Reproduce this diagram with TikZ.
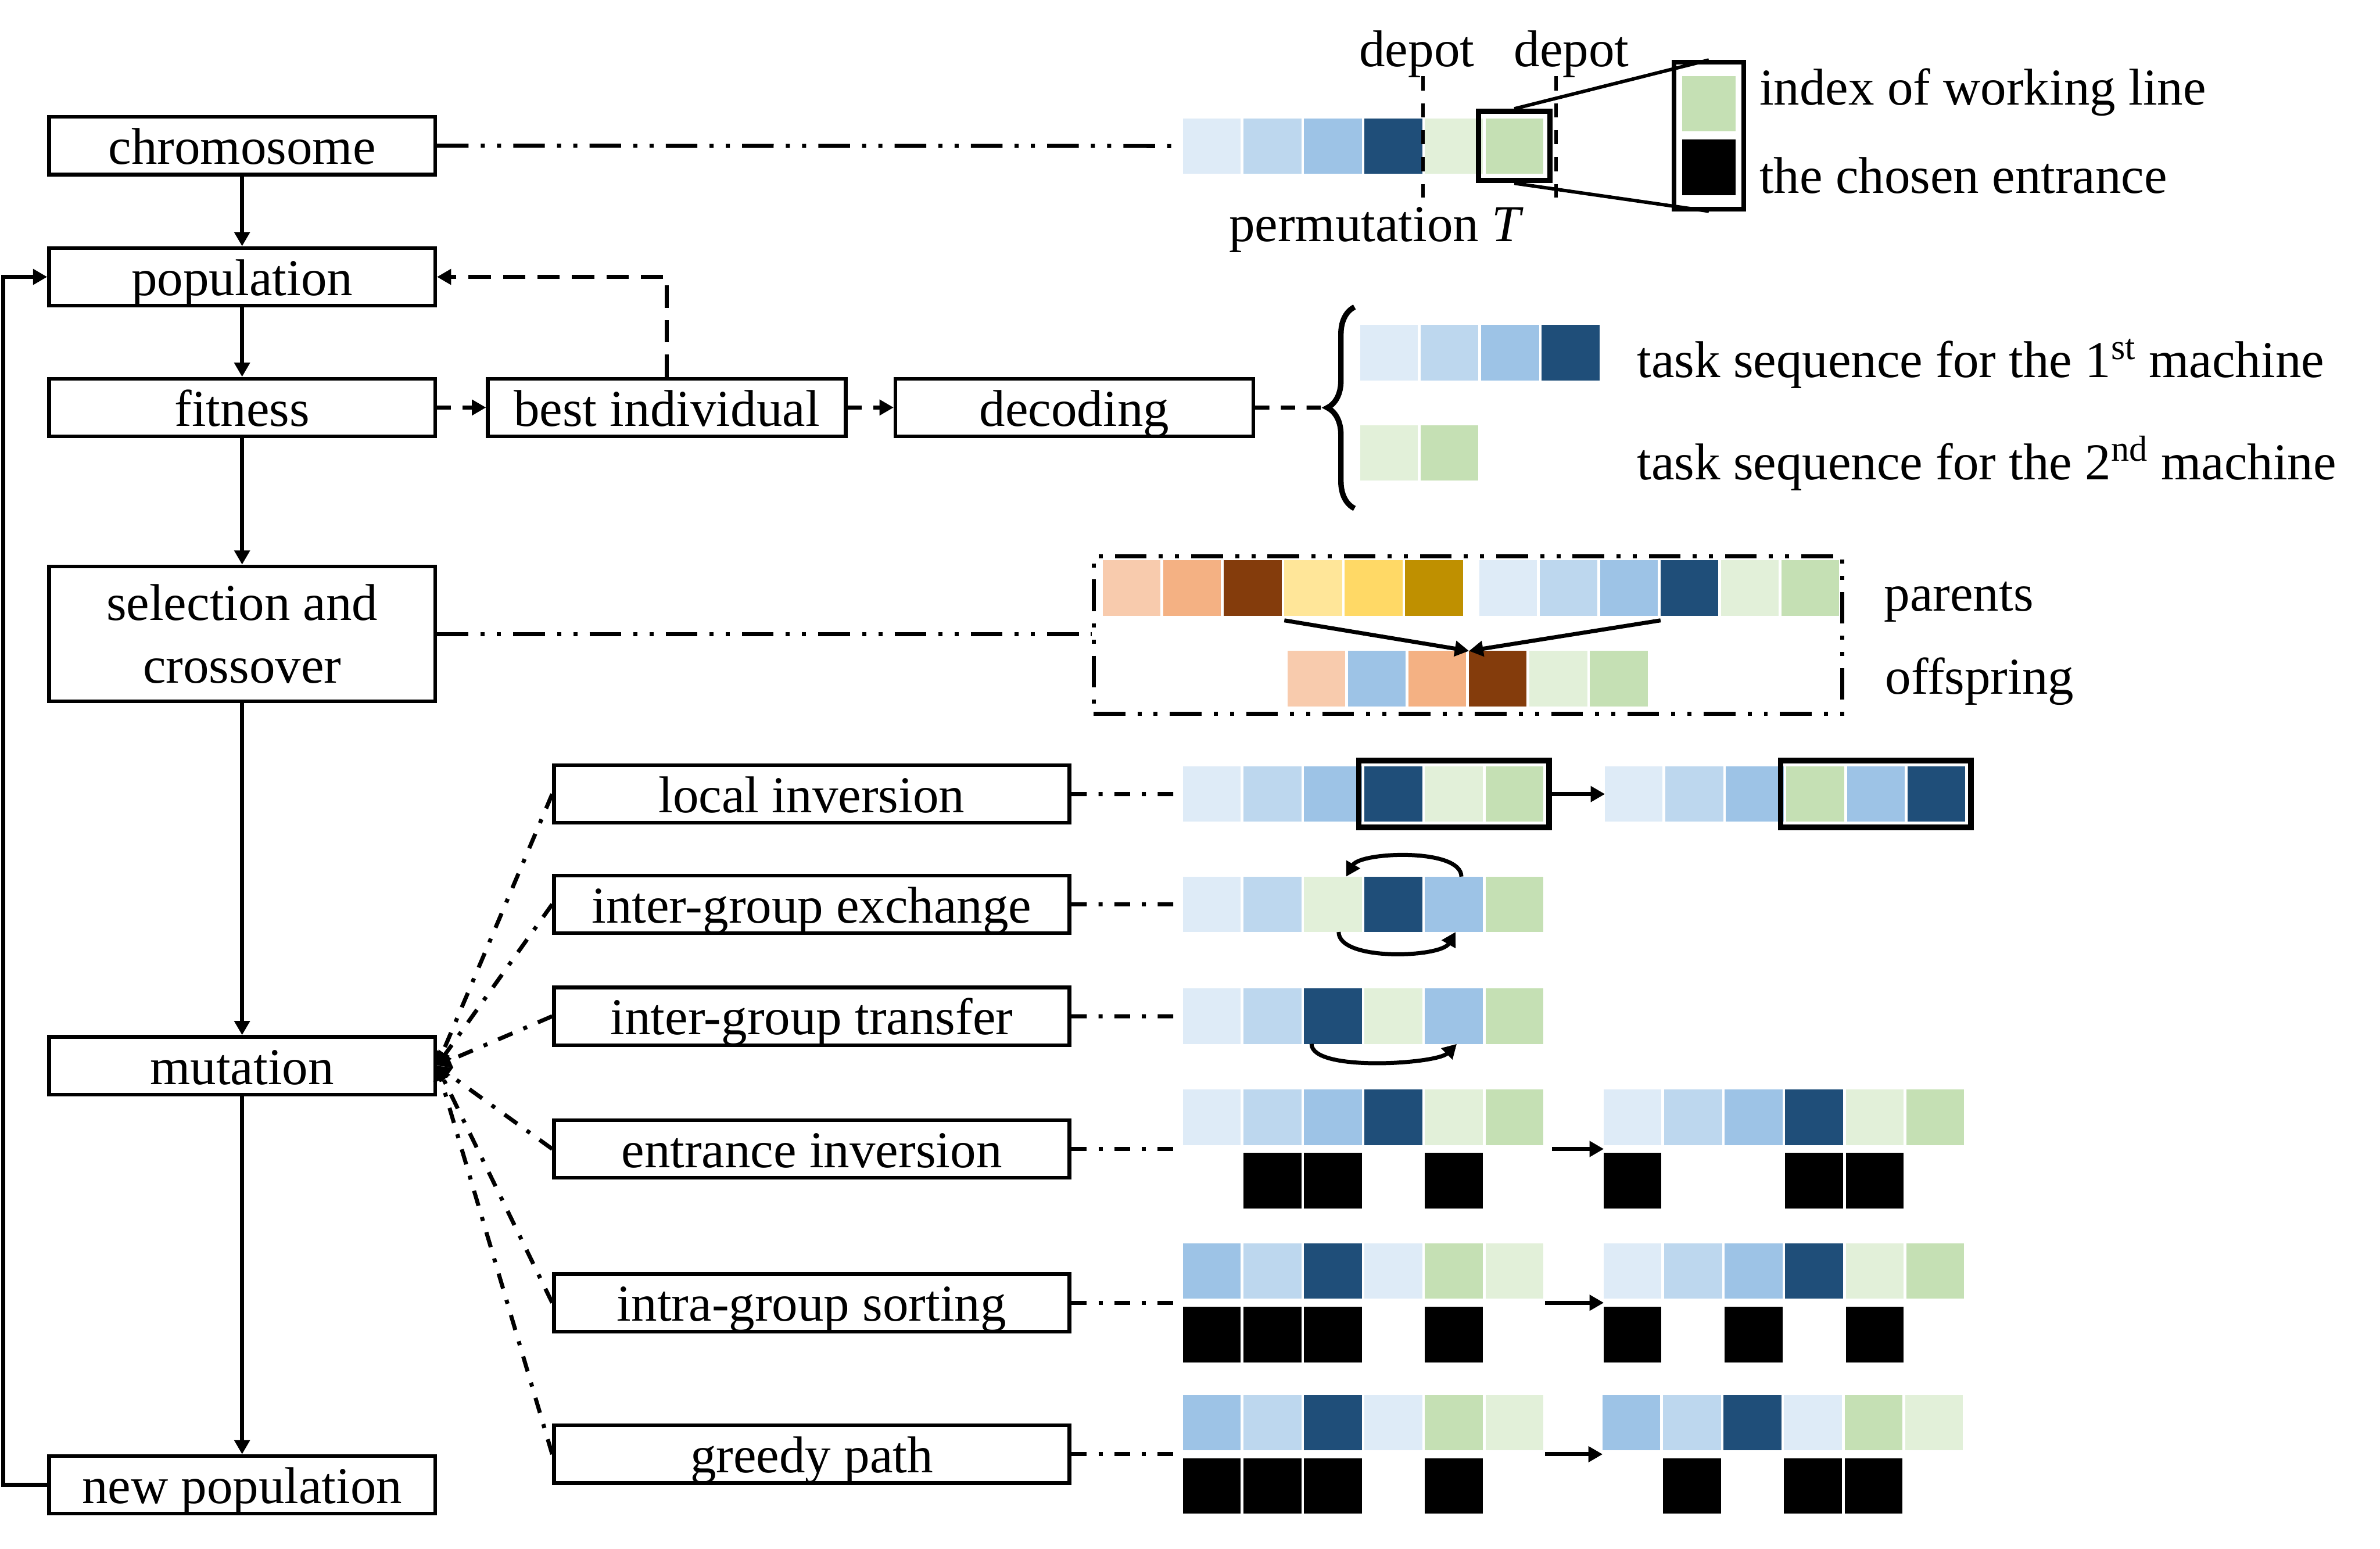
\documentclass[tikz,border=0pt]{standalone}
\usepackage{fontspec}
\setmainfont{Liberation Serif}
\usetikzlibrary{arrows.meta, positioning, fit, decorations.pathreplacing}

\definecolor{blueA}{HTML}{DEEBF7}
\definecolor{blueB}{HTML}{BDD7EE}
\definecolor{blueC}{HTML}{9DC3E6}
\definecolor{blueD}{HTML}{1F4E79}
\definecolor{greenA}{HTML}{E2F0D9}
\definecolor{greenB}{HTML}{C5E0B4}
\definecolor{orangeA}{HTML}{F8CBAD}
\definecolor{orangeB}{HTML}{F4B183}
\definecolor{brownA}{HTML}{843C0C}
\definecolor{yellowA}{HTML}{FFE699}
\definecolor{yellowB}{HTML}{FFD966}
\definecolor{goldA}{HTML}{BF9000}

\tikzset{
  boxbase/.style={rectangle, draw, line width=1.8pt, minimum width=6.69cm,
    minimum height=1cm, inner sep=0pt, align=center},
  block/.style={boxbase, text height=0.69cm, text depth=0.05cm},
  opblock/.style={block, minimum width=8.93cm},
  cell/.style={rectangle, anchor=north west, minimum width=1cm,
    minimum height=0.96cm, inner sep=0pt, outer sep=0pt},
  txt/.style={inner sep=0pt},
  arrow/.style={line width=2pt, -{Triangle[length=7pt,width=7.5pt]}},
  dashline/.style={line width=2pt, dash pattern=on 7pt off 5.7pt},
  dashdotline/.style={line width=2pt, dash pattern=on 7.7pt off 5.8pt on 2pt off 5.8pt},
  dashdotdotline/.style={line width=2pt,
    dash pattern=on 15.6pt off 6pt on 2pt off 6pt on 2pt off 6pt}
}

% one row of task cells: name, left x, top y, colours
\newcommand{\taskrow}[4]{%
  \foreach \cellcol [count=\idx] in {#4}
    \node[cell, fill=\cellcol] (#1-\idx) at ({#2+(\idx-1)*1.048},#3) {};}

\begin{document}
\begin{tikzpicture}[font=\fontsize{25.5}{31}\selectfont]
    \useasboundingbox (0,0) rectangle (41.24,-26.84);

    % main loop
    \node[block] (chromosome) at (4.195,-2.525) {chromosome};
    \node[block, below=1.21cm of chromosome] (population) {population};
    \node[block, below=1.2cm of population] (fitness) {fitness};
    \node[boxbase, minimum height=2.34cm, below=2.19cm of fitness] (selection) {selection and\\crossover};
    \node[block, below=5.75cm of selection] (mutation) {mutation};
    \node[block, below=6.2cm of mutation] (newpop) {new population};
    \node[block, minimum width=6.2cm, right=0.85cm of fitness] (best) {best individual};
    \node[block, minimum width=6.2cm, right=0.8cm of best] (decoding) {decoding};

    \draw[arrow] (chromosome) -- (population);
    \draw[arrow] (population) -- (fitness);
    \draw[arrow] (fitness) -- (selection);
    \draw[arrow] (selection) -- (mutation);
    \draw[arrow] (mutation) -- (newpop);
    \draw[arrow] (newpop.west) -- ++(-0.76,0) |- (population.west);
    \draw[arrow, dashline] (fitness) -- (best);
    \draw[arrow, dashline] (best) -- (decoding);
    \draw[arrow, dashline, dash pattern=on 11pt off 6pt] (best.north) |- (population.east);

    % chromosome encoding
    \taskrow{ch}{20.50}{-2.05}{blueA,blueB,blueC,blueD,greenA,greenB}
    \draw[dashdotdotline] (chromosome) -- (ch-1);
    \node[draw, line width=2.6pt, inner sep=0.12cm, fit=(ch-6)] (chsel) {};
    \draw[line width=1.7pt, dash pattern=on 7pt off 6.3pt] (24.66,-1.32) -- (24.66,-3.42);
    \draw[line width=1.7pt, dash pattern=on 7pt off 6.3pt] (26.96,-1.32) -- (26.96,-3.42);
    \node[txt] (depotA) at (24.55,-0.94) {depot};
    \node[txt] (depotB) at (27.23,-0.94) {depot};
    \node[txt] (perm) at (23.85,-3.98) {permutation \textit{T}};

    \node[cell, fill=greenB, minimum width=0.92cm] (legG) at (29.15,-1.32) {};
    \node[cell, fill=black, minimum width=0.92cm] (legK) at (29.15,-2.42) {};
    \node[draw, line width=2.3pt, inner xsep=0.14cm, inner ysep=0.24cm, fit=(legG)(legK)] (legbox) {};
    \draw[line width=1.7pt] (chsel.north) -- (legbox.north);
    \draw[line width=1.7pt] (chsel.south) -- (legbox.south);
    \node[txt, anchor=west] (legGtxt) at (30.48,-1.60) {index of working line};
    \node[txt, anchor=west] (legKtxt) at (30.48,-3.04) {the chosen entrance};

    % decoding
    \taskrow{ma}{23.57}{-5.63}{blueA,blueB,blueC,blueD}
    \taskrow{mb}{23.57}{-7.37}{greenA,greenB}
    \draw[line width=2.7pt, decorate, decoration={brace, amplitude=0.47cm}] (23.47,-8.81) -- (23.47,-5.32);
    \coordinate (brtip) at (23.0,-7.065);
    \draw[dashline] (decoding) -- (brtip);
    \node[txt, anchor=west] (machA) at (28.36,-6.30) {task sequence for the 1\textsuperscript{st} machine};
    \node[txt, anchor=west] (machB) at (28.36,-8.03) {task sequence for the 2\textsuperscript{nd} machine};

    % crossover
    \node[draw, dashdotdotline, minimum width=12.97cm, minimum height=2.73cm, inner sep=0pt] (xbox) at (25.435,-11.005) {};
    \taskrow{pa}{19.11}{-9.71}{orangeA,orangeB,brownA,yellowA,yellowB,goldA}
    \taskrow{pb}{25.63}{-9.71}{blueA,blueB,blueC,blueD,greenA,greenB}
    \taskrow{of}{22.31}{-11.28}{orangeA,blueC,orangeB,brownA,greenA,greenB}
    \draw[arrow] ([yshift=-0.08cm]pa-4.south west) -- (of-4.north west);
    \draw[arrow] ([yshift=-0.08cm]pb-4.south west) -- (of-4.north west);
    \draw[dashdotdotline] (selection.east) -- (selection.east -| xbox.west);
    \node[txt, anchor=west] (partxt) at (32.64,-10.43) {parents};
    \node[txt, anchor=west] (offtxt) at (32.66,-11.81) {offspring};

    % mutation operators
    \node[opblock] (localinv) at (14.065,-13.76) {local inversion};
    \node[opblock] (exchange) at (14.065,-15.67) {inter-group exchange};
    \node[opblock] (transfer) at (14.065,-17.61) {inter-group transfer};
    \node[opblock] (entrance) at (14.065,-19.91) {entrance inversion};
    \node[opblock] (sorting) at (14.065,-22.575) {intra-group sorting};
    \node[opblock] (greedy) at (14.065,-25.20) {greedy path};
    \foreach \op in {localinv,exchange,transfer,entrance,sorting,greedy}
      \draw[dashdotline, arrow] (\op.west) -- (mutation.east);

    % local inversion
    \taskrow{li}{20.50}{-13.28}{blueA,blueB,blueC,blueD,greenA,greenB}
    \taskrow{liR}{27.81}{-13.28}{blueA,blueB,blueC,greenB,blueC,blueD}
    \node[draw, line width=2.8pt, inner sep=0.1cm, fit=(li-4)(li-6)] (liboxA) {};
    \node[draw, line width=2.8pt, inner sep=0.1cm, fit=(liR-4)(liR-6)] (liboxB) {};
    \draw[arrow] (liboxA) -- (liR-1);
    \draw[dashdotline] (localinv) -- (li-1);

    % inter-group exchange
    \taskrow{ex}{20.50}{-15.19}{blueA,blueB,greenA,blueD,blueC,greenB}
    \draw[arrow] ([xshift=0.13cm]ex-5.north) to[out=90, in=60, looseness=0.64] ([xshift=0.23cm]ex-3.north);
    \draw[arrow] ([xshift=0.1cm]ex-3.south) to[out=-90, in=-120, looseness=0.65] ([xshift=0.03cm]ex-5.south);
    \draw[dashdotline] (exchange) -- (ex-1);

    % inter-group transfer
    \taskrow{tr}{20.50}{-17.13}{blueA,blueB,blueD,greenA,blueC,greenB}
    \draw[arrow] ([xshift=0.13cm]tr-3.south west) to[out=-90, in=-135, looseness=0.5] ([xshift=0.05cm]tr-5.south);
    \draw[dashdotline] (transfer) -- (tr-1);

    % entrance inversion
    \taskrow{en}{20.50}{-18.88}{blueA,blueB,blueC,blueD,greenA,greenB}
    \taskrow{enK}{20.50}{-19.98}{none,black,black,none,black,none}
    \taskrow{enR}{27.79}{-18.88}{blueA,blueB,blueC,blueD,greenA,greenB}
    \taskrow{enRK}{27.79}{-19.98}{black,none,none,black,black,none}
    \draw[arrow] ([xshift=0.15cm,yshift=-0.07cm]en-6.south east) -- ([yshift=-0.07cm]enR-1.south west);
    \draw[dashdotline] (entrance.east) -- (entrance.east -| en-1.west);

    % intra-group sorting
    \taskrow{so}{20.50}{-21.545}{blueC,blueB,blueD,blueA,greenB,greenA}
    \taskrow{soK}{20.50}{-22.645}{black,black,black,none,black,none}
    \taskrow{soR}{27.79}{-21.545}{blueA,blueB,blueC,blueD,greenA,greenB}
    \taskrow{soRK}{27.79}{-22.645}{black,none,black,none,black,none}
    \draw[arrow] ([xshift=0.03cm,yshift=-0.07cm]so-6.south east) -- ([yshift=-0.07cm]soR-1.south west);
    \draw[dashdotline] (sorting.east) -- (sorting.east -| so-1.west);

    % greedy path
    \taskrow{gp}{20.50}{-24.17}{blueC,blueB,blueD,blueA,greenB,greenA}
    \taskrow{gpK}{20.50}{-25.27}{black,black,black,none,black,none}
    \taskrow{gpR}{27.77}{-24.17}{blueC,blueB,blueD,blueA,greenB,greenA}
    \taskrow{gpRK}{27.77}{-25.27}{none,black,none,black,black,none}
    \draw[arrow] ([xshift=0.03cm,yshift=-0.07cm]gp-6.south east) -- ([yshift=-0.07cm]gpR-1.south west);
    \draw[dashdotline] (greedy.east) -- (greedy.east -| gp-1.west);
\end{tikzpicture}
\end{document}
